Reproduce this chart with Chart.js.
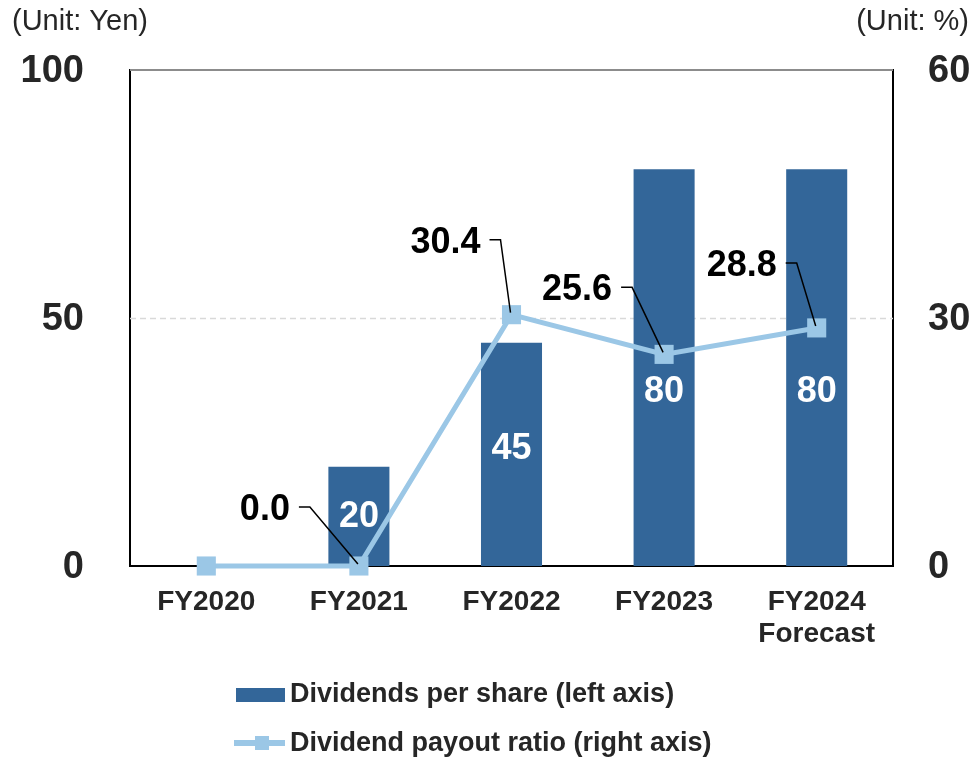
<!DOCTYPE html>
<html><head><meta charset="utf-8">
<script src="https://cdn.jsdelivr.net/npm/chart.js@4/dist/chart.umd.min.js"></script>
<style>html,body{margin:0;padding:0;background:#fff;overflow:hidden}#wrap{width:972px;height:757px}</style>
</head><body><div id="wrap"><canvas id="c" width="972" height="757"></canvas></div>
<script>
// ---- data ----
const categories = [['FY2020'], ['FY2021'], ['FY2022'], ['FY2023'], ['FY2024', 'Forecast']];
const dividendsPerShare = [0, 20, 45, 80, 80];
const payoutRatio = [0, 0, 30.4, 25.6, 28.8];
const payoutLabels = [null, '0.0', '30.4', '25.6', '28.8'];
const leftTicks = [0, 50, 100];
const rightTicks = [0, 30, 60];
const seriesNames = ['Dividends per share (left axis)', 'Dividend payout ratio (right axis)'];
const unitLeft = '(Unit: Yen)';
const unitRight = '(Unit: %)';

// ---- style ----
const FONT = "'Liberation Sans', Arial, sans-serif";
const BAR_COLOR = '#336699';
const LINE_COLOR = '#9BC7E6';
const TEXT_COLOR = '#262626';
const barLabelRise = [null, 49, 117, 174, 174];          // px above baseline
const leaderStart = [null, [-60, -59], [-22, -75], [-43, -67], [-31, -65]]; // relative to point

const overlay = {
  id: 'overlay',
  beforeDatasetsDraw(chart) {
    const {ctx, chartArea: a, scales: {y}} = chart;
    ctx.save();
    ctx.strokeStyle = '#d9d9d9'; ctx.lineWidth = 1.5; ctx.setLineDash([6, 4]);
    const y50 = Math.round(y.getPixelForValue(50)) + 0.5;
    ctx.beginPath(); ctx.moveTo(a.left, y50); ctx.lineTo(a.right, y50); ctx.stroke();
    ctx.setLineDash([]);
    ctx.strokeStyle = '#8c8c8c'; ctx.lineWidth = 2;
    const yTop = y.getPixelForValue(100);
    ctx.beginPath(); ctx.moveTo(a.left, yTop); ctx.lineTo(a.right, yTop); ctx.stroke();
    ctx.restore();
  },
  afterDatasetsDraw(chart) {
    const {ctx, scales: {y}} = chart;
    ctx.save();
    const bars = chart.getDatasetMeta(1).data;
    ctx.font = 'bold 36px ' + FONT; ctx.fillStyle = '#fff';
    ctx.textAlign = 'center'; ctx.textBaseline = 'middle';
    bars.forEach((b, i) => {
      if (!dividendsPerShare[i]) return;
      ctx.fillText(String(dividendsPerShare[i]), b.x, y.getPixelForValue(0) - barLabelRise[i]);
    });
    const pts = chart.getDatasetMeta(0).data;
    pts.forEach((p, i) => {
      if (payoutLabels[i] == null) return;
      const [dx, dy] = leaderStart[i];
      const sx = p.x + dx, sy = p.y + dy;
      ctx.strokeStyle = '#000'; ctx.lineWidth = 1.5;
      ctx.beginPath(); ctx.moveTo(sx, sy); ctx.lineTo(sx + 11, sy); ctx.lineTo(p.x - 1, p.y - 2); ctx.stroke();
      ctx.fillStyle = '#000'; ctx.textAlign = 'right';
      ctx.fillText(payoutLabels[i], sx - 9, sy + 3);
    });
    ctx.restore();
  },
  afterDraw(chart) {
    const {ctx} = chart;
    ctx.save();
    ctx.font = '29px ' + FONT; ctx.fillStyle = TEXT_COLOR; ctx.textBaseline = 'middle';
    ctx.textAlign = 'left'; ctx.fillText(unitLeft, 12, 22);
    ctx.textAlign = 'right'; ctx.fillText(unitRight, 969, 22);
    // legend
    ctx.font = 'bold 27px ' + FONT; ctx.textAlign = 'left';
    ctx.fillStyle = BAR_COLOR; ctx.fillRect(236, 688, 49, 14);
    ctx.fillStyle = TEXT_COLOR; ctx.fillText(seriesNames[0], 290, 695);
    ctx.strokeStyle = LINE_COLOR; ctx.lineWidth = 6;
    ctx.beginPath(); ctx.moveTo(234, 743); ctx.lineTo(285, 743); ctx.stroke();
    ctx.fillStyle = LINE_COLOR; ctx.fillRect(255, 736, 14, 14);
    ctx.fillStyle = TEXT_COLOR; ctx.fillText(seriesNames[1], 290, 744);
    ctx.restore();
  }
};

new Chart(document.getElementById('c'), {
  data: {
    labels: categories,
    datasets: [
      { type: 'line', label: seriesNames[1], data: payoutRatio, yAxisID: 'y2', order: 1,
        borderColor: LINE_COLOR, backgroundColor: LINE_COLOR, borderWidth: 5,
        pointStyle: 'rect', pointRadius: 13.5, pointHoverRadius: 13.5, pointBorderWidth: 0,
        tension: 0, clip: false },
      { type: 'bar', label: seriesNames[0], data: dividendsPerShare, yAxisID: 'y', order: 2,
        backgroundColor: BAR_COLOR, categoryPercentage: 1, barPercentage: 0.4 }
    ]
  },
  options: {
    responsive: false, animation: false, devicePixelRatio: 1,
    layout: { padding: { top: 70, left: 0, right: 0, bottom: 0 } },
    plugins: { legend: { display: false }, tooltip: { enabled: false } },
    scales: {
      x: {
        grid: { display: false },
        border: { display: true, color: '#000', width: 2 },
        ticks: { color: TEXT_COLOR, font: { family: FONT, size: 28, weight: 'bold', lineHeight: 1.15 }, padding: 12, maxRotation: 0, autoSkip: false },
        afterFit: s => { s.height = 191; }
      },
      y: {
        position: 'left', min: 0, max: 100,
        grid: { display: false },
        border: { display: true, color: '#000', width: 2 },
        ticks: { color: TEXT_COLOR, font: { family: FONT, size: 38, weight: 'bold' }, padding: 38, labelOffset: 2 },
        afterBuildTicks: s => { s.ticks = leftTicks.map(v => ({ value: v })); },
        afterFit: s => { s.width = 130; }
      },
      y2: {
        position: 'right', min: 0, max: 60,
        grid: { display: false },
        border: { display: true, color: '#000', width: 2 },
        ticks: { color: TEXT_COLOR, font: { family: FONT, size: 38, weight: 'bold' }, padding: 27, labelOffset: 2 },
        afterBuildTicks: s => { s.ticks = rightTicks.map(v => ({ value: v })); },
        afterFit: s => { s.width = 79; }
      }
    }
  },
  plugins: [overlay]
});
</script></body></html>
